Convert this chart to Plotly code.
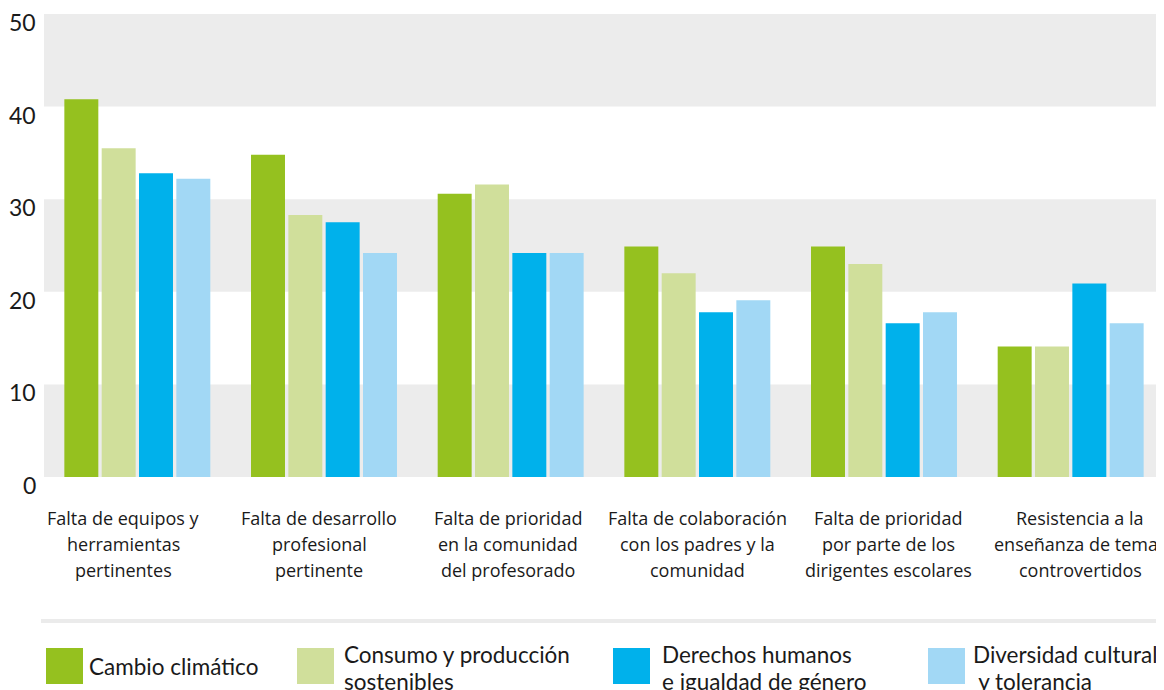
import plotly.graph_objects as go

categories = [
    "Falta de equipos y<br>herramientas<br>pertinentes",
    "Falta de desarrollo<br>profesional<br>pertinente",
    "Falta de prioridad<br>en la comunidad<br>del profesorado",
    "Falta de colaboración<br>con los padres y la<br>comunidad",
    "Falta de prioridad<br>por parte de los<br>dirigentes escolares",
    "Resistencia a la<br>enseñanza de temas<br>controvertidos",
]
series_names = [
    "Cambio climático",
    "Consumo y producción<br>sostenibles",
    "Derechos humanos<br>e igualdad de género",
    "Diversidad cultural<br> y tolerancia",
]
cambio = [40.8, 34.8, 30.6, 24.9, 24.9, 14.1]
consumo = [35.5, 28.3, 31.6, 22.0, 23.0, 14.1]
derechos = [32.8, 27.5, 24.2, 17.8, 16.6, 20.9]
diversidad = [32.2, 24.2, 24.2, 19.1, 17.8, 16.6]
series_values = [cambio, consumo, derechos, diversidad]
colors = ["#95c11f", "#d0df9b", "#00b1eb", "#a2d8f5"]
y_ticks = [0, 10, 20, 30, 40, 50]

# page is offset by the 8px body margin
OFF = 8
W, H = 1164 - OFF, 690 - OFF
ML, MR, MT, MB = 44 - OFF, 0, 14 - OFF, 690 - 477
PW, PH = W - ML - MR, H - MT - MB


def px_x(px):
    return (px - OFF - ML) / PW


def px_y(py):
    return (H - MB - (py - OFF)) / PH


fig = go.Figure()
for name, vals, col in zip(series_names, series_values, colors):
    fig.add_trace(go.Bar(x=categories, y=vals, name=name.replace("<br>", " "),
                         marker=dict(color=col, line=dict(width=0)), showlegend=False))

shapes = []
for lo in (0, 20, 40):
    shapes.append(dict(type="rect", xref="paper", yref="y", x0=0, x1=1, y0=lo, y1=lo + 10,
                       fillcolor="#ececec", line=dict(width=0), layer="below"))

# separator line
shapes.append(dict(type="line", xref="paper", yref="paper", x0=px_x(41), x1=px_x(1170),
                   y0=px_y(621), y1=px_y(621), line=dict(color="#ebebeb", width=4)))

annotations = []
TXT = "#1a1a1a"

# y tick labels
for v in y_ticks:
    annotations.append(dict(xref="paper", yref="y", x=0, y=v, text=str(v), showarrow=False,
                            xanchor="right", yanchor="middle", xshift=-6, yshift=-8,
                            font=dict(size=23, color=TXT, family="Lato")))

# category labels, one annotation per line
label_centers = [123, 319, 508, 697, 888, 1080]
line_y = [518, 544, 570]
for cat, cx in zip(categories, label_centers):
    for line, ly in zip(cat.split("<br>"), line_y):
        annotations.append(dict(xref="paper", yref="paper", x=px_x(cx), y=px_y(ly), text=line,
                                showarrow=False, xanchor="center", yanchor="middle",
                                font=dict(size=18, color=TXT, family="Open Sans")))

# legend
legend_box_x = [46, 297, 613, 928]
legend_text_x = [87, 342, 660, 971]
for name, col, bx, tx in zip(series_names, colors, legend_box_x, legend_text_x):
    shapes.append(dict(type="rect", xref="paper", yref="paper", x0=px_x(bx), x1=px_x(bx + 37),
                       y0=px_y(684), y1=px_y(648), fillcolor=col, line=dict(width=0)))
    lines = name.split("<br>")
    ys = [666] if len(lines) == 1 else [654, 681]
    for line, ly in zip(lines, ys):
        annotations.append(dict(xref="paper", yref="paper", x=px_x(tx), y=px_y(ly),
                                text=line.replace(" ", "&nbsp;", 1) if line.startswith(" ") else line,
                                showarrow=False, xanchor="left", yanchor="middle", align="left",
                                font=dict(size=22.5, color=TXT, family="Lato")))

fig.update_layout(
    width=W, height=H,
    margin=dict(l=ML, r=MR, t=MT, b=MB, autoexpand=False),
    paper_bgcolor="white", plot_bgcolor="white",
    barmode="group", bargap=0.2, bargroupgap=0.09,
    shapes=shapes, annotations=annotations,
    font=dict(family="Lato", color=TXT),
    showlegend=False,
)
fig.update_xaxes(showgrid=False, showline=False, ticks="", automargin=False, showticklabels=False)
fig.update_yaxes(range=[0, 50], tickvals=y_ticks, showgrid=False, zeroline=False, showline=False,
                 automargin=False, ticks="", showticklabels=False)

fig.write_html("out.html")
